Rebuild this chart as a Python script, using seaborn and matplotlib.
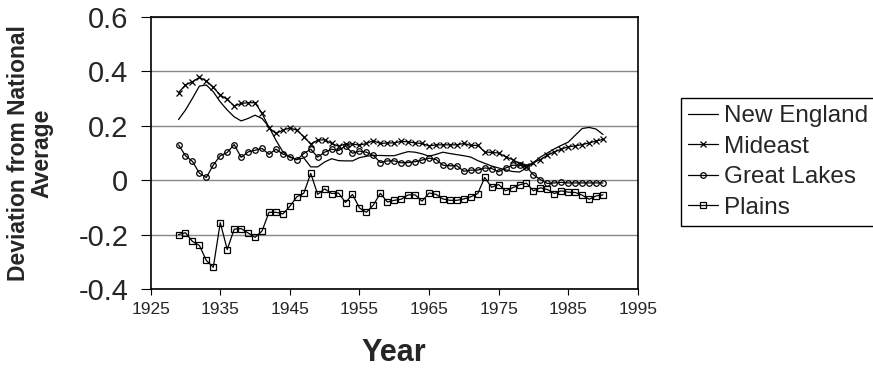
import pandas as pd
import matplotlib
matplotlib.use("Agg")
import matplotlib.pyplot as plt
import seaborn as sns

years = list(range(1929, 1991))

new_england = [0.223, 0.258, 0.301, 0.346, 0.350, 0.325, 0.288, 0.258, 0.233, 0.218,
               0.227, 0.239, 0.227, 0.196, 0.147, 0.104, 0.084, 0.076, 0.082, 0.049,
               0.049, 0.067, 0.079, 0.072, 0.071, 0.071, 0.083, 0.088, 0.091, 0.091,
               0.090, 0.090, 0.098, 0.105, 0.103, 0.097, 0.088, 0.095, 0.103, 0.098,
               0.094, 0.090, 0.085, 0.072, 0.062, 0.052, 0.045, 0.038, 0.032, 0.030,
               0.045, 0.065, 0.085, 0.100, 0.115, 0.128, 0.140, 0.165, 0.190, 0.194,
               0.188, 0.168]

mideast = [0.322, 0.350, 0.362, 0.378, 0.365, 0.341, 0.313, 0.297, 0.273, 0.282,
           0.285, 0.285, 0.246, 0.193, 0.172, 0.184, 0.192, 0.184, 0.160, 0.133,
           0.147, 0.149, 0.135, 0.125, 0.133, 0.133, 0.129, 0.135, 0.145, 0.135,
           0.137, 0.137, 0.143, 0.141, 0.137, 0.135, 0.126, 0.130, 0.130, 0.130,
           0.130, 0.135, 0.128, 0.128, 0.104, 0.102, 0.100, 0.086, 0.076, 0.061,
           0.052, 0.065, 0.076, 0.092, 0.104, 0.114, 0.123, 0.126, 0.131, 0.137,
           0.144, 0.150]

great_lakes = [0.130, 0.090, 0.069, 0.026, 0.010, 0.056, 0.090, 0.102, 0.131, 0.084,
               0.104, 0.110, 0.117, 0.095, 0.114, 0.096, 0.087, 0.075, 0.098, 0.114,
               0.085, 0.103, 0.114, 0.109, 0.126, 0.099, 0.107, 0.103, 0.091, 0.065,
               0.071, 0.071, 0.064, 0.065, 0.068, 0.074, 0.081, 0.076, 0.055, 0.053,
               0.053, 0.033, 0.037, 0.037, 0.045, 0.043, 0.031, 0.045, 0.055, 0.055,
               0.049, 0.020, 0.002, -0.012, -0.010, -0.008, -0.010, -0.010, -0.010, -0.010,
               -0.010, -0.010]

plains = [-0.200, -0.193, -0.225, -0.240, -0.295, -0.320, -0.156, -0.255, -0.180, -0.178,
          -0.194, -0.210, -0.187, -0.118, -0.118, -0.124, -0.096, -0.061, -0.048, 0.025,
          -0.052, -0.032, -0.049, -0.047, -0.082, -0.052, -0.102, -0.118, -0.091, -0.048,
          -0.080, -0.074, -0.070, -0.054, -0.054, -0.077, -0.047, -0.052, -0.069, -0.074,
          -0.074, -0.069, -0.061, -0.049, 0.010, -0.026, -0.016, -0.039, -0.028, -0.017,
          -0.011, -0.039, -0.028, -0.034, -0.049, -0.039, -0.044, -0.045, -0.055, -0.070,
          -0.058, -0.054]

series = {"New England": new_england, "Mideast": mideast,
          "Great Lakes": great_lakes, "Plains": plains}
markers = {"New England": None, "Mideast": "x", "Great Lakes": "o", "Plains": "s"}
msizes = {"New England": 0, "Mideast": 4.5, "Great Lakes": 4, "Plains": 4.5}

df = pd.DataFrame([(y, name, v) for name, vals in series.items()
                   for y, v in zip(years, vals)], columns=["year", "region", "value"])

sns.set_style("white")
plt.rcParams['font.family'] = ['Liberation Sans', 'DejaVu Sans']

fig = plt.figure(figsize=(8.73, 3.72), dpi=100)
ax = fig.add_axes([0.1726, 0.2231, 0.558, 0.7312])

for name in series:
    sub = df[df["region"] == name]
    sns.lineplot(data=sub, x="year", y="value", ax=ax, color="black", linewidth=0.9,
                 marker=markers[name], markersize=msizes[name],
                 markerfacecolor="none", markeredgecolor="black", markeredgewidth=0.9,
                 label=name)

ax.set_xlim(1925, 1995)
ax.set_ylim(-0.4, 0.6)
ax.set_xticks(range(1925, 1996, 10))
ax.set_yticks([-0.4, -0.2, 0, 0.2, 0.4, 0.6])
ax.set_yticklabels(["-0.4", "-0.2", "0", "0.2", "0.4", "0.6"])
ax.yaxis.grid(True, color="#888888", linewidth=1)
ax.set_axisbelow(True)
for s in ax.spines.values():
    s.set_color("black")
    s.set_linewidth(1.2)
ax.tick_params(axis="y", labelsize=21, length=7, pad=9, direction="out", left=True, color="black")
ax.tick_params(axis="x", labelsize=12.5, length=4.5, pad=5, direction="out", bottom=True, color="black")

ax.set_xlabel("Year", fontsize=22, fontweight="bold")
ax.xaxis.set_label_coords(0.5, -0.18)
ax.set_ylabel("Deviation from National\nAverage", fontsize=16.5, fontweight="bold",
              linespacing=1.0)
ax.yaxis.set_label_coords(-0.2, 0.5)

leg = ax.legend(loc="upper left", bbox_to_anchor=(1.089, 0.702), borderaxespad=0,
                fontsize=17.5, frameon=True, fancybox=False, edgecolor="black",
                framealpha=1, handlelength=1.2, handletextpad=0.25, borderpad=0.3,
                labelspacing=0.35)
leg.get_frame().set_linewidth(1)

fig.savefig("out.png", dpi=100)
